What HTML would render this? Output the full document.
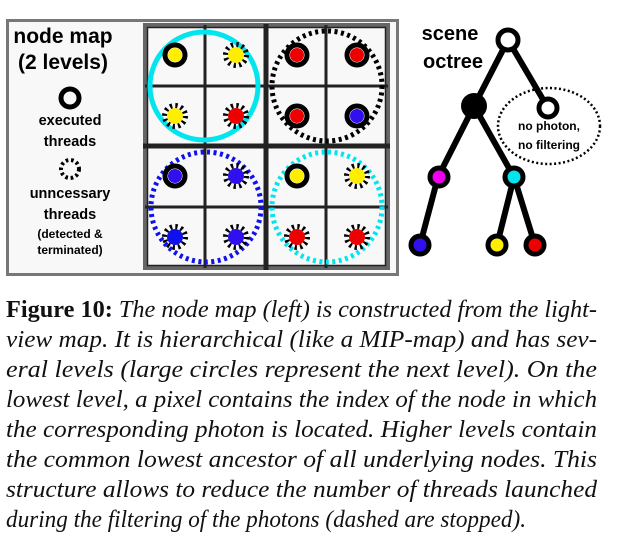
<!DOCTYPE html>
<html><head><style>
html,body{margin:0;padding:0;background:#fff;}
svg{display:block;}
</style></head><body>
<svg width="617" height="537" viewBox="0 0 617 537" xmlns="http://www.w3.org/2000/svg">
<defs>
<g id="solid"><circle r="10" fill="none" stroke="#000" stroke-width="5"/></g>
<g id="dash"><circle r="10.5" fill="none" stroke="#000" stroke-width="5" stroke-dasharray="2.3 3.2"/></g>
</defs>
<rect x="7.5" y="20.5" width="390" height="254" fill="#f8f8f8" stroke="#777" stroke-width="3"/>
<g font-family="Liberation Sans, sans-serif" font-weight="bold" fill="#000" text-anchor="middle">
<text x="63" y="43" font-size="21">node map</text>
<text x="63" y="69" font-size="21">(2 levels)</text>
<text x="70" y="125" font-size="14.5">executed</text>
<text x="70" y="146" font-size="14.5">threads</text>
<text x="70" y="198" font-size="14.5">unncessary</text>
<text x="70" y="219" font-size="14.5">threads</text>
<text x="70" y="238" font-size="12">(detected &amp;</text>
<text x="70" y="254" font-size="12">terminated)</text>
</g>
<circle cx="70" cy="98" r="9" fill="none" stroke="#000" stroke-width="5"/>
<circle cx="70" cy="169" r="9" fill="none" stroke="#000" stroke-width="4" stroke-dasharray="2.6 2.8"/>
<rect x="145" y="25" width="243" height="243" fill="#f8f8f8" stroke="#666" stroke-width="4"/>
<rect x="147.5" y="27.5" width="238" height="238" fill="none" stroke="#222" stroke-width="1.5"/>
<g stroke="#222" stroke-width="3">
<line x1="205" y1="25" x2="205" y2="268"/>
<line x1="326" y1="25" x2="326" y2="268"/>
<line x1="145" y1="86" x2="388" y2="86"/>
<line x1="145" y1="207" x2="388" y2="207"/>
</g>
<g stroke="#222" stroke-width="5">
<line x1="266" y1="24" x2="266" y2="270"/>
<line x1="143" y1="146" x2="390" y2="146"/>
</g>
<circle cx="204" cy="86" r="54" fill="none" stroke="#00e5ee" stroke-width="5"/>
<circle cx="327" cy="86" r="55" fill="none" stroke="#000" stroke-width="5" stroke-dasharray="3 3.5"/>
<circle cx="206" cy="207" r="55" fill="none" stroke="#1010ee" stroke-width="5" stroke-dasharray="3 3.5"/>
<circle cx="327" cy="207" r="55" fill="none" stroke="#00e5ee" stroke-width="5" stroke-dasharray="3 3.5"/>
<g>
<circle cx="175" cy="55" r="7" fill="#ffee00"/><use href="#solid" x="175" y="55"/>
<circle cx="236" cy="55" r="8" fill="#ffee00"/><use href="#dash" x="236" y="55"/>
<circle cx="175" cy="116" r="8" fill="#ffee00"/><use href="#dash" x="175" y="116"/>
<circle cx="236" cy="116" r="8" fill="#ee0000"/><use href="#dash" x="236" y="116"/>
<circle cx="297" cy="55" r="7" fill="#ee0000"/><use href="#solid" x="297" y="55"/>
<circle cx="357" cy="55" r="7" fill="#ee0000"/><use href="#solid" x="357" y="55"/>
<circle cx="297" cy="116" r="7" fill="#ee0000"/><use href="#solid" x="297" y="116"/>
<circle cx="357" cy="116" r="7" fill="#3010ee"/><use href="#solid" x="357" y="116"/>
<circle cx="175" cy="176" r="7" fill="#3010ee"/><use href="#solid" x="175" y="176"/>
<circle cx="236" cy="176" r="8" fill="#3010ee"/><use href="#dash" x="236" y="176"/>
<circle cx="175" cy="237" r="8" fill="#1010ee"/><use href="#dash" x="175" y="237"/>
<circle cx="236" cy="237" r="8" fill="#3010ee"/><use href="#dash" x="236" y="237"/>
<circle cx="297" cy="176" r="7" fill="#ffee00"/><use href="#solid" x="297" y="176"/>
<circle cx="357" cy="176" r="8" fill="#ffee00"/><use href="#dash" x="357" y="176"/>
<circle cx="297" cy="237" r="8" fill="#ee0000"/><use href="#dash" x="297" y="237"/>
<circle cx="357" cy="237" r="8" fill="#ee0000"/><use href="#dash" x="357" y="237"/>
</g>
<g font-family="Liberation Sans, sans-serif" font-weight="bold" text-anchor="middle">
<text x="450" y="40" font-size="20">scene</text>
<text x="453" y="68" font-size="20">octree</text>
<text x="549" y="130" font-size="12">no photon,</text>
<text x="549" y="149" font-size="12">no filtering</text>
</g>
<ellipse cx="549" cy="126" rx="51" ry="38" fill="none" stroke="#000" stroke-width="2.5" stroke-dasharray="2 2.5"/>
<g stroke="#000" stroke-width="6" stroke-linecap="round">
<line x1="508" y1="40" x2="474" y2="106"/>
<line x1="508" y1="40" x2="548" y2="108"/>
<line x1="474" y1="106" x2="438" y2="177"/>
<line x1="474" y1="106" x2="514" y2="177"/>
<line x1="438" y1="177" x2="420" y2="245"/>
<line x1="514" y1="177" x2="497" y2="245"/>
<line x1="514" y1="177" x2="535" y2="245"/>
</g>
<circle cx="508" cy="40" r="10" fill="#fff" stroke="#000" stroke-width="5"/>
<circle cx="474" cy="106" r="13" fill="#000"/>
<circle cx="548" cy="108" r="9" fill="#fff" stroke="#000" stroke-width="5"/>
<circle cx="439" cy="177" r="9" fill="#ee00ee" stroke="#000" stroke-width="5"/>
<circle cx="514" cy="177" r="9" fill="#00e5ee" stroke="#000" stroke-width="5"/>
<circle cx="420" cy="245" r="9" fill="#3010ee" stroke="#000" stroke-width="5"/>
<circle cx="497" cy="245" r="9" fill="#ffee00" stroke="#000" stroke-width="5"/>
<circle cx="535" cy="245" r="9" fill="#ee0000" stroke="#000" stroke-width="5"/>
<g font-family="Liberation Serif, serif" font-size="24" font-style="italic" fill="#111">
<text x="6" y="317" textLength="591" lengthAdjust="spacingAndGlyphs"><tspan font-weight="bold" font-style="normal">Figure 10:</tspan> The node map (left) is constructed from the light-</text>
<text x="6" y="347" textLength="591" lengthAdjust="spacingAndGlyphs">view map. It is hierarchical (like a MIP-map) and has sev-</text>
<text x="6" y="377" textLength="591" lengthAdjust="spacingAndGlyphs">eral levels (large circles represent the next level). On the</text>
<text x="6" y="407" textLength="591" lengthAdjust="spacingAndGlyphs">lowest level, a pixel contains the index of the node in which</text>
<text x="6" y="437" textLength="591" lengthAdjust="spacingAndGlyphs">the corresponding photon is located. Higher levels contain</text>
<text x="6" y="467" textLength="591" lengthAdjust="spacingAndGlyphs">the common lowest ancestor of all underlying nodes. This</text>
<text x="6" y="497" textLength="591" lengthAdjust="spacingAndGlyphs">structure allows to reduce the number of threads launched</text>
<text x="6" y="527" textLength="520" lengthAdjust="spacingAndGlyphs">during the filtering of the photons (dashed are stopped).</text>
</g>
</svg>
</body></html>
